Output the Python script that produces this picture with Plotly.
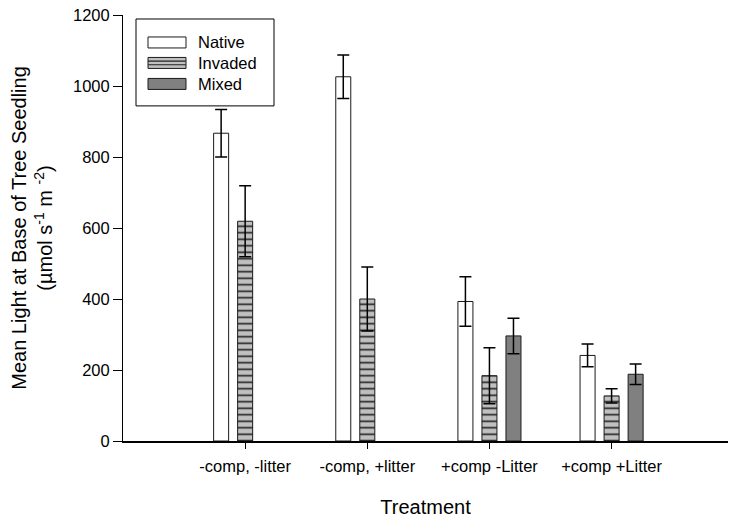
import plotly.graph_objects as go

# Treatment groups and mean light (µmol s-1 m-2) with standard errors
treatments = ["-comp, -litter", "-comp, +litter", "+comp -Litter", "+comp +Litter"]
native = [867, 1026, 393, 241]
native_err = [67, 61, 70, 32]
invaded = [619, 400, 184, 127]
invaded_err = [100, 90, 79, 20]
mixed = [None, None, 296, 188]
mixed_err = [0, 0, 50, 29]

y_ticks = [0, 200, 400, 600, 800, 1000, 1200]

FONT = "Liberation Sans, Arial, sans-serif"
W, H = 729, 518
ML, MR, MT, MB = 123, 1, 15, 76.5
PW, PH = W - ML - MR, H - MT - MB


def px_x(px):
    return (px - ML) / PW


def px_y(py):
    return (H - MB - py) / PH


err_style = dict(type="data", symmetric=True, color="black", thickness=1.5, width=6)
outline = dict(color="#1a1a1a", width=1)

fig = go.Figure()
fig.add_trace(go.Bar(
    name="Native", x=treatments, y=native,
    marker=dict(color="white", line=outline),
    error_y=dict(array=native_err, **err_style),
))
fig.add_trace(go.Bar(
    name="Invaded", x=treatments, y=invaded,
    marker=dict(
        color="#c0c0c0", line=outline,
        pattern=dict(shape="-", fillmode="replace", bgcolor="#c0c0c0",
                     fgcolor="#222222", size=6.5, solidity=0.25),
    ),
    error_y=dict(array=invaded_err, **err_style),
))
fig.add_trace(go.Bar(
    name="Mixed", x=treatments, y=mixed,
    marker=dict(color="#808080", line=outline),
    error_y=dict(array=mixed_err, **err_style),
))

# Legend box drawn from shapes and text
shapes = [
    dict(type="rect", xref="paper", yref="paper",
         x0=px_x(136), x1=px_x(274), y0=px_y(106), y1=px_y(19),
         line=dict(color="black", width=1), fillcolor="white"),
]
annotations = []
legend_rows = [("Native", "white", 42.5), ("Invaded", "#c0c0c0", 63), ("Mixed", "#808080", 84)]
for label, color, cy in legend_rows:
    shapes.append(dict(type="rect", xref="paper", yref="paper",
                       x0=px_x(148), x1=px_x(186), y0=px_y(cy + 5.5), y1=px_y(cy - 5.5),
                       line=dict(color="#1a1a1a", width=1), fillcolor=color))
    if label == "Invaded":
        for dy in (-1.8, 1.8):
            shapes.append(dict(type="line", xref="paper", yref="paper",
                               x0=px_x(148), x1=px_x(186), y0=px_y(cy + dy), y1=px_y(cy + dy),
                               line=dict(color="#222222", width=1.2)))
    annotations.append(dict(text=label, xref="paper", yref="paper",
                            x=px_x(196), y=px_y(cy), xanchor="left", yanchor="middle",
                            showarrow=False, font=dict(family=FONT, size=16.5, color="black")))

fig.update_layout(
    width=W, height=H,
    margin=dict(l=ML, r=MR, t=MT, b=MB, pad=0),
    paper_bgcolor="white", plot_bgcolor="white",
    barmode="group", bargap=0.41, bargroupgap=0.375,
    showlegend=False,
    shapes=shapes, annotations=annotations,
    font=dict(family=FONT, color="black"),
)

fig.update_xaxes(
    type="category", range=[-1, 3.953],
    showline=True, linecolor="black", linewidth=2, mirror=False,
    ticks="outside", ticklen=6, tickwidth=1, tickcolor="black",
    tickfont=dict(family=FONT, size=16.5, color="black"),
    ticklabelstandoff=3,
    showgrid=False, zeroline=False,
    title=dict(text="Treatment", font=dict(family=FONT, size=20, color="black"), standoff=27),
)
fig.update_yaxes(
    range=[0, 1200], tickvals=y_ticks,
    showline=True, linecolor="black", linewidth=1,
    ticks="outside", ticklen=9, tickwidth=1, tickcolor="black",
    tickfont=dict(family=FONT, size=16.5, color="black"),
    showgrid=False, zeroline=False,
    title=dict(text="Mean Light at Base of Tree Seedling<br>(µmol s<sup>-1</sup> m <sup>-2</sup>)",
               font=dict(family=FONT, size=20, color="black"), standoff=14),
)

fig.write_html("out.html")
